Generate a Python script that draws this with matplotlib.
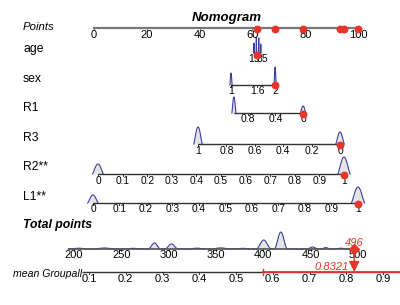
import matplotlib
matplotlib.use("Agg")
import matplotlib.pyplot as plt
import numpy as np

plt.rcParams['font.family'] = ['Liberation Sans', 'DejaVu Sans']

# point scale: pixel position of 0 and 100 points
P0_PX, P100_PX = 94, 358

# variable -> points mapping: (value, points) at the two ends
age_ends = [(15, 60.6), (85, 63.6)]
sex_ends = [(1, 51.9), (2, 68.6)]
r1_ends = [(1, 53.0), (0, 79.2)]
r3_ends = [(1, 39.4), (0, 93.2)]
r2_ends = [(0, 1.5), (1, 94.7)]
l1_ends = [(0, -0.4), (1, 100.0)]
total_ends = [(200, -7.6), (500, 100.0)]
mean_ends = [(0.1, -1.9), (0.9, 109.5)]

# tick labels
points_ticks = [0, 20, 40, 60, 80, 100]
age_ticks = [15, 85]
sex_ticks = [1, 1.6, 2]
r1_ticks = [0.8, 0.4, 0]
r3_ticks = [1, 0.8, 0.6, 0.4, 0.2, 0]
r2_ticks = [0, 0.1, 0.2, 0.3, 0.4, 0.5, 0.6, 0.7, 0.8, 0.9, 1]
l1_ticks = [0, 0.1, 0.2, 0.3, 0.4, 0.5, 0.6, 0.7, 0.8, 0.9, 1]
total_ticks = [200, 250, 300, 350, 400, 450, 500]
mean_ticks = [0.1, 0.2, 0.3, 0.4, 0.5, 0.6, 0.7, 0.8, 0.9]

# distributions: (value, width in value units, height)
age_dist = [(15, 3, 10), (36, 4, 16), (57, 4, 15), (75, 3, 9)]
sex_dist = [(1, 0.05, 12), (2, 0.05, 18)]
r1_dist = [(1, 0.06, 16), (0, 0.08, 7)]
r3_dist = [(1, 0.06, 17), (0, 0.06, 12)]
r2_dist = [(0, 0.045, 10), (1, 0.05, 17)]
l1_dist = [(0, 0.04, 8), (1, 0.05, 16)]
total_dist = [(205, 20, 0.8), (232, 25, 1.0), (262, 20, 0.7), (285, 13, 6),
              (303, 14, 5), (330, 20, 0.8), (355, 22, 1.1), (378, 18, 0.7),
              (400.5, 16, 9), (418.5, 14, 17), (452, 12, 2), (466, 10, 1.4),
              (482, 14, 0.8)]

# the patient
patient_points = [61.7, 68.6, 79.2, 93.2, 94.7, 100.0]
patient_age = 40.7
total_score = 496
pred_mean = 0.8321
ci_low, ci_high = 0.573, 1.0

red = '#e8352b'
blue = '#3a3f9e'
dark = '#333333'


def to_pts(v, ends):
    (v0, p0), (v1, p1) = ends
    return p0 + (np.asarray(v, float) - v0) * (p1 - p0) / (v1 - v0)


fig = plt.figure(figsize=(4.0, 3.05), dpi=100)
ax = fig.add_axes([0, 0, 1, 1])
scale = (P100_PX - P0_PX) / 100.0
ax.set_xlim(-P0_PX / scale, (400 - P0_PX) / scale)
ax.set_ylim(305, 0)
ax.axis('off')


def px2pts(x):
    return (x - P0_PX) / scale


def draw_dist(dist, ends, y, sum_all=False, lo=None, hi=None):
    if sum_all:
        xs = np.linspace(lo, hi, 400)
        h = np.zeros_like(xs)
        for c, w, ht in dist:
            t = np.clip((xs - c) / w + 0.5, 0, 1)
            h += ht * np.sin(np.pi * t) ** 2
        px = to_pts(xs, ends)
        ax.fill_between(px, y, y - h, color='#e4e4e4', lw=0, zorder=1)
        ax.plot(px, y - h, color=blue, lw=0.8, zorder=2)
        return
    for c, w, ht in dist:
        xs = np.linspace(c - w / 2, c + w / 2, 40)
        t = np.linspace(0, 1, 40)
        h = ht * np.sin(np.pi * t) ** 1.3
        px = to_pts(xs, ends)
        ax.fill_between(px, y, y - h, color='#e4e4e4', lw=0, zorder=1)
        ax.plot(px, y - h, color=blue, lw=0.8, zorder=2)


def draw_axis(ticks, ends, y, lo=None, hi=None, color=dark, lw=1.0, fs=7):
    lo = min(ticks) if lo is None else lo
    hi = max(ticks) if hi is None else hi
    ax.plot(to_pts([lo, hi], ends), [y, y], color=color, lw=lw, zorder=3,
            solid_capstyle='butt')
    for t in ticks:
        p = to_pts(t, ends)
        ax.plot([p, p], [y, y + 2], color=color, lw=0.7, zorder=3)
        ax.text(p, y + 1.5, f'{t:g}', ha='center', va='top', fontsize=fs,
                color='black')


# title
ax.text(px2pts(227), 18, 'Nomogram', fontsize=9.5, fontweight='bold',
        fontstyle='italic', ha='center', va='center')

# row labels
rows = [('Points', 27, 'italic', 'normal', 8.2, 23), ('age', 49, 'normal', 'normal', 8.8, 23),
        ('sex', 79, 'normal', 'normal', 8.8, 23), ('R1', 108, 'normal', 'normal', 8.8, 23),
        ('R3', 138, 'normal', 'normal', 8.8, 23), ('R2**', 167, 'normal', 'normal', 8.8, 23),
        ('L1**', 197, 'normal', 'normal', 8.8, 23),
        ('Total points', 225, 'italic', 'bold', 8.8, 23),
        ('mean Groupall', 274, 'italic', 'normal', 7.6, 13)]
for name, y, st, wt, fs, x in rows:
    ax.text(px2pts(x), y, name, fontstyle=st, fontweight=wt, fontsize=fs,
            ha='left', va='center')

# Points axis
y_pts = 28
ax.plot([0, 100], [y_pts, y_pts], color='#777777', lw=1.6, zorder=3)
for t in points_ticks:
    ax.plot([t, t], [y_pts, y_pts + 2], color='#777777', lw=0.7)
    ax.text(t, y_pts + 1.5, f'{t}', ha='center', va='top', fontsize=8)
ax.scatter(patient_points, [y_pts + 1] * len(patient_points), s=32, color=red,
           zorder=5, lw=0)

# age
y_age = 54
draw_dist(age_dist, age_ends, y_age - 1)
for t in age_ticks:
    ax.text(to_pts(t, age_ends), y_age - 0.5, f'{t}', ha='center', va='top', fontsize=7.5)
ax.scatter([to_pts(patient_age, age_ends)], [y_age + 1], s=32, color=red, zorder=5, lw=0)

# sex
y_sex = 85
draw_dist(sex_dist, sex_ends, y_sex)
draw_axis(sex_ticks, sex_ends, y_sex, fs=7.5)
ax.scatter([to_pts(2, sex_ends)], [y_sex], s=32, color=red, zorder=5, lw=0)

# R1
y_r1 = 113
draw_dist(r1_dist, r1_ends, y_r1)
draw_axis(r1_ticks, r1_ends, y_r1, lo=0, hi=1, fs=7.5)
ax.scatter([to_pts(0, r1_ends)], [y_r1 + 1], s=32, color=red, zorder=5, lw=0)

# R3
y_r3 = 144
draw_dist(r3_dist, r3_ends, y_r3)
draw_axis(r3_ticks, r3_ends, y_r3, fs=7.5)
ax.scatter([to_pts(0, r3_ends)], [y_r3 + 1], s=32, color=red, zorder=5, lw=0)

# R2
y_r2 = 174
draw_dist(r2_dist, r2_ends, y_r2)
draw_axis(r2_ticks, r2_ends, y_r2, fs=7.3)
ax.scatter([to_pts(1, r2_ends)], [y_r2 + 1], s=32, color=red, zorder=5, lw=0)

# L1
y_l1 = 203
draw_dist(l1_dist, l1_ends, y_l1)
draw_axis(l1_ticks, l1_ends, y_l1, fs=7.3)
ax.scatter([to_pts(1, l1_ends)], [y_l1 + 1], s=32, color=red, zorder=5, lw=0)

# Total points
y_tot = 249
draw_dist(total_dist, total_ends, y_tot, sum_all=True, lo=194, hi=500)
draw_axis(total_ticks, total_ends, y_tot, lo=194, hi=500, color='#555555', lw=1.2, fs=8)
p_tot = to_pts(total_score, total_ends)
ax.scatter([p_tot], [y_tot], s=36, color=red, marker='D', zorder=6, lw=0)
ax.text(p_tot, y_tot - 1.5, f'{total_score}', color=red, fontstyle='italic',
        fontsize=8, ha='center', va='bottom', zorder=7)

# mean Groupall
y_mean = 272
draw_axis(mean_ticks, mean_ends, y_mean, lo=0.08, hi=1.0, fs=8)
ax.plot(to_pts([ci_low, ci_high], mean_ends), [y_mean, y_mean], color=red, lw=1.3, zorder=4)
p_low = to_pts(ci_low, mean_ends)
ax.plot([p_low, p_low], [y_mean - 3, y_mean + 3], color=red, lw=1, zorder=4)
ax.annotate('', xy=(p_tot, y_mean), xytext=(p_tot, y_tot),
            arrowprops=dict(arrowstyle='-|>', color=red, lw=1, mutation_scale=16,
                            shrinkA=0, shrinkB=0), zorder=6)
ax.text(p_tot - 2, y_mean - 0.5, f'{pred_mean}', color=red, fontstyle='italic',
        fontsize=8, ha='right', va='bottom')

fig.savefig('out.png', dpi=100)
